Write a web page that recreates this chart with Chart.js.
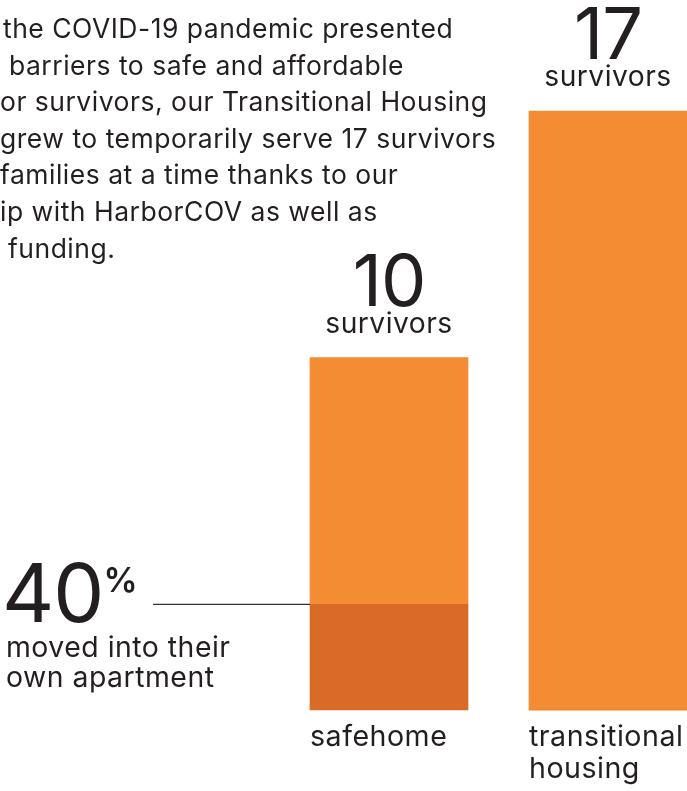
<!DOCTYPE html>
<html>
<head>
<meta charset="utf-8">
<script src="https://cdn.jsdelivr.net/npm/chart.js@4"></script>
<style>
  html, body { margin: 0; padding: 0; background: #fff; }
  #wrap { width: 687px; height: 791px; position: relative; overflow: hidden; }
</style>
</head>
<body>
<div id="wrap"><canvas id="housingChart" width="687" height="791"></canvas></div>
<script>
// Data
const categories = ['safehome', 'transitional housing'];
const categoryLines = [['safehome'], ['transitional', 'housing']];
const movedOut = [3, 0];        // dark part of the safehome bar
const remaining = [7, 17];      // light part
const totals = [10, 17];
const movedPct = 40;
const introLines = [
    'the COVID-19 pandemic presented',
    'barriers to safe and affordable',
    'or survivors, our Transitional Housing',
    'grew to temporarily serve 17 survivors',
    'families at a time thanks to our',
    'ip with HarborCOV as well as',
    'funding.'
];
const introIndent = [3, 9, 0, 0, 0, 0, 8];

const TEXT = '#231f20';
const FONT = 'Inter, Roboto, sans-serif';
const BAR_W = 158;
const SPACING = 0.5;

// font size so a sample string spans the width seen in the reference
function fitFont(ctx, text, target) {
    ctx.letterSpacing = '0px';
    ctx.font = '20px ' + FONT;
    const w = ctx.measureText(text).width;
    const size = 20 * (target - SPACING * (text.length - 1)) / w;
    return size.toFixed(1) + 'px ' + FONT;
}

const labelPlugin = {
    id: 'labels',
    afterDatasetsDraw(chart) {
        const ctx = chart.ctx;
        const x = chart.scales.x;
        const y = chart.scales.y;
        ctx.save();
        ctx.fillStyle = TEXT;
        ctx.textBaseline = 'alphabetic';

        // intro paragraph
        const introFont = fitFont(ctx, introLines[3], 496);
        ctx.font = introFont;
        ctx.letterSpacing = SPACING + 'px';
        ctx.textAlign = 'left';
        introLines.forEach((line, i) => {
            ctx.fillText(line, introIndent[i], 38 + i * 36.6);
        });

        // totals above bars
        const survFont = fitFont(ctx, 'survivors', 127);
        totals.forEach((t, i) => {
            const cx = x.getPixelForValue(i);
            const top = y.getPixelForValue(t);
            ctx.textAlign = 'center';
            ctx.font = '72px ' + FONT;
            ctx.letterSpacing = '-1px';
            ctx.fillText(String(t), cx, top - 52);
            ctx.font = survFont;
            ctx.letterSpacing = SPACING + 'px';
            ctx.fillText('survivors', cx, top - 25);
        });

        // category names under bars, left aligned to bar edge
        const catFont = fitFont(ctx, 'transitional', 154);
        ctx.textAlign = 'left';
        ctx.font = catFont;
        ctx.letterSpacing = SPACING + 'px';
        categoryLines.forEach((lines, i) => {
            const left = x.getPixelForValue(i) - BAR_W / 2;
            lines.forEach((l, j) => {
                ctx.fillText(l, left, y.getPixelForValue(0) + 36 + j * 32);
            });
        });

        // 40% callout
        const lineY = y.getPixelForValue(movedOut[0]);
        const barLeft = x.getPixelForValue(0) - BAR_W / 2;
        ctx.strokeStyle = '#333';
        ctx.lineWidth = 1.2;
        ctx.beginPath();
        ctx.moveTo(153, lineY);
        ctx.lineTo(barLeft, lineY);
        ctx.stroke();

        ctx.letterSpacing = '-1px';
        ctx.font = '81px ' + FONT;
        ctx.fillText(String(movedPct), 2, lineY + 18);
        const w = ctx.measureText(String(movedPct)).width;
        ctx.letterSpacing = '0px';
        ctx.font = '600 34px ' + FONT;
        ctx.fillText('%', 2 + w, lineY - 12);
        const movFont = fitFont(ctx, 'moved into their', 224);
        ctx.font = movFont;
        ctx.letterSpacing = SPACING + 'px';
        ctx.fillText('moved into their', 6, lineY + 53);
        ctx.fillText('own apartment', 6, lineY + 83);
        ctx.restore();
    }
};

function drawChart() {
    new Chart(document.getElementById('housingChart').getContext('2d'), {
        type: 'bar',
        data: {
            labels: categories,
            datasets: [
                {
                    label: 'moved into own apartment',
                    data: movedOut,
                    backgroundColor: '#da6a27',
                    barThickness: BAR_W,
                    borderWidth: 0,
                    clip: false
                },
                {
                    label: 'other survivors',
                    data: remaining,
                    backgroundColor: '#f38c32',
                    barThickness: BAR_W,
                    borderWidth: 0,
                    clip: false
                }
            ]
        },
        options: {
            responsive: false,
            animation: false,
            layout: { padding: { left: 389, right: 79, top: 0, bottom: 81 } },
            scales: {
                x: { display: false, stacked: true, offset: false },
                y: { display: false, stacked: true, min: 0, max: 20.15 }
            },
            plugins: {
                legend: { display: false },
                tooltip: { enabled: false }
            }
        },
        plugins: [labelPlugin]
    });
}

// make sure the font is ready before measuring text
document.fonts.load('72px Inter').catch(() => {}).then(drawChart);
</script>
</body>
</html>
